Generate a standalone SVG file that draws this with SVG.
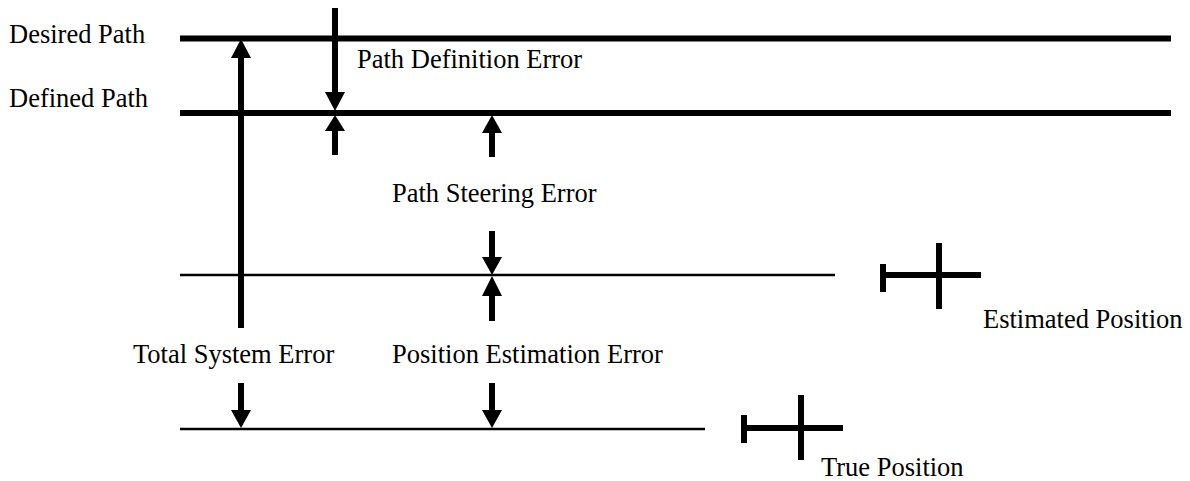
<svg xmlns="http://www.w3.org/2000/svg" width="1190" height="481" viewBox="0 0 1190 481">
<style>
.t{font-family:"Liberation Serif","Times New Roman",serif;font-size:26.5px;fill:#000}
.thick{stroke:#000;stroke-width:6;fill:none}
.thin{stroke:#000;stroke-width:2.5;fill:none}
.head{fill:#000}
</style>
<rect width="1190" height="481" fill="#fff"/>
<g id="paths">
<line class="thick" x1="180" y1="38.5" x2="1171" y2="38.5"/>
<line class="thick" x1="180" y1="113" x2="1171" y2="113"/>
<line class="thin" x1="180" y1="275" x2="835" y2="275"/>
<line class="thin" x1="180" y1="429" x2="705" y2="429"/>
</g>
<g id="labels">
<text class="t" x="9" y="43">Desired Path</text>
<text class="t" x="9" y="107">Defined Path</text>
<text class="t" x="357" y="68">Path Definition Error</text>
<text class="t" x="392" y="202">Path Steering Error</text>
<text class="t" x="133" y="363">Total System Error</text>
<text class="t" x="392" y="363">Position Estimation Error</text>
<text class="t" x="983" y="328">Estimated Position</text>
<text class="t" x="821" y="476">True Position</text>
</g>
<g id="estimated-position">
<line class="thick" x1="880" y1="275" x2="981" y2="275"/>
<line class="thick" x1="883" y1="264" x2="883" y2="292"/>
<line class="thick" x1="939" y1="243" x2="939" y2="309"/>
</g>
<g id="true-position">
<line class="thick" x1="741" y1="428" x2="843" y2="428"/>
<line class="thick" x1="744" y1="415" x2="744" y2="443"/>
<line class="thick" x1="801" y1="395" x2="801" y2="460"/>
</g>
<g id="connectors">
<!-- Total System Error -->
<line class="thick" x1="241" y1="328" x2="241" y2="56"/>
<polygon class="head" points="241,39 231,58 251,58"/>
<line class="thick" x1="241" y1="383" x2="241" y2="412"/>
<polygon class="head" points="241,428 231,410 251,410"/>
<!-- Path Definition Error -->
<line class="thick" x1="335" y1="8" x2="335" y2="94"/>
<polygon class="head" points="335,111 325,92 345,92"/>
<line class="thick" x1="335" y1="155" x2="335" y2="130"/>
<polygon class="head" points="335,115 325,131 345,131"/>
<!-- Path Steering Error -->
<line class="thick" x1="492" y1="157" x2="492" y2="132"/>
<polygon class="head" points="492,115 482,133 502,133"/>
<line class="thick" x1="492" y1="231" x2="492" y2="259"/>
<polygon class="head" points="492,275 482,257 502,257"/>
<!-- Position Estimation Error -->
<line class="thick" x1="492" y1="321" x2="492" y2="294"/>
<polygon class="head" points="492,276 482,296 502,296"/>
<line class="thick" x1="492" y1="383" x2="492" y2="412"/>
<polygon class="head" points="492,428 482,410 502,410"/>
</g>
</svg>
